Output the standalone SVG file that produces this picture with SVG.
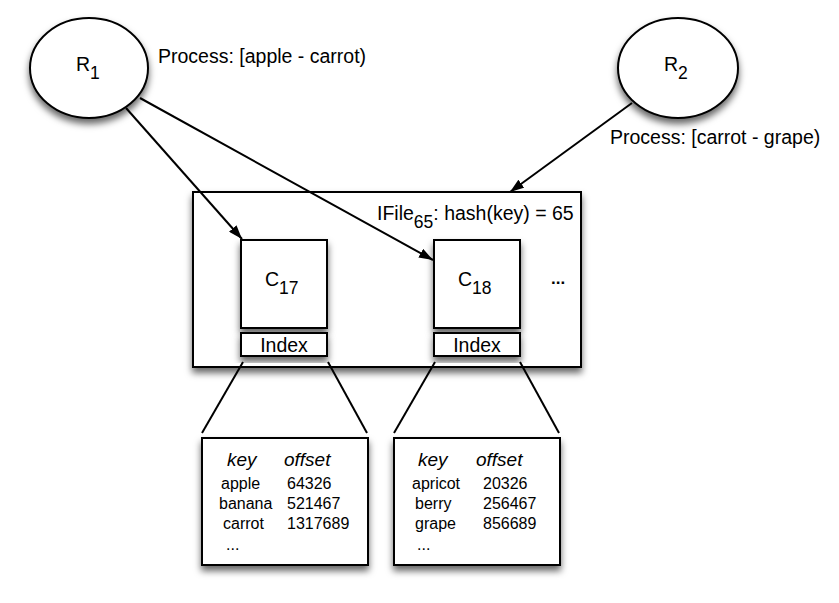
<svg xmlns="http://www.w3.org/2000/svg" width="839" height="603" viewBox="0 0 839 603">
<defs>
<filter id="sh" x="-20%" y="-20%" width="140%" height="150%">
<feDropShadow dx="0" dy="5" stdDeviation="3.5" flood-color="#000" flood-opacity="0.6"/>
</filter>
<marker id="ah" viewBox="0 0 14 10" refX="14" refY="5" markerWidth="14" markerHeight="10" markerUnits="userSpaceOnUse" orient="auto">
<path d="M0,0 L14,5 L0,10 Z" fill="#000"/>
</marker>
<style>
.n{fill:#fff;stroke:#000;stroke-width:2;filter:url(#sh)}
.c{stroke:#000;stroke-width:2;fill:none}
text{font-family:"Liberation Sans",Arial,sans-serif;fill:#000}
.lb{font-size:19.5px}
.sub{font-size:17.5px}
.hd{font-size:19px;font-style:italic}
.row{font-size:16px}
</style>
</defs>
<rect width="839" height="603" fill="#fff"/>
<g id="ifile">
<rect class="n" x="193" y="192" width="388" height="175"/>
<text class="lb" x="377" y="220">IFile<tspan class="sub" dy="8">65</tspan><tspan dy="-8">: hash(key) = 65</tspan></text>
<text class="lb" x="551" y="284" style="font-weight:bold;font-size:17px">...</text>
</g>
<g id="r1">
<ellipse class="n" cx="89" cy="68" rx="59" ry="50"/>
<text class="lb" x="76" y="71">R<tspan class="sub" dy="8">1</tspan></text>
<text class="lb" x="158" y="63">Process: [apple - carrot)</text>
</g>
<g id="r2">
<ellipse class="n" cx="678" cy="68" rx="60" ry="50"/>
<text class="lb" x="664" y="71">R<tspan class="sub" dy="8">2</tspan></text>
<text class="lb" x="610" y="144">Process: [carrot - grape)</text>
</g>
<g id="c17">
<rect class="n" x="241" y="240" width="86" height="88"/>
<text class="lb" x="265" y="286">C<tspan class="sub" dy="8">17</tspan></text>
</g>
<g id="index17">
<rect class="n" x="241" y="333" width="86" height="23"/>
<text class="lb" x="284" y="352" text-anchor="middle">Index</text>
</g>
<g id="c18">
<rect class="n" x="434" y="240" width="86" height="88"/>
<text class="lb" x="458" y="286">C<tspan class="sub" dy="8">18</tspan></text>
</g>
<g id="index18">
<rect class="n" x="434" y="333" width="86" height="23"/>
<text class="lb" x="477" y="352" text-anchor="middle">Index</text>
</g>
<g id="table17">
<rect class="n" x="202" y="438" width="166" height="127"/>
<text class="hd" x="227" y="466">key</text>
<text class="hd" x="284" y="466">offset</text>
<text class="row" x="221" y="489">apple</text>
<text class="row" x="287" y="489">64326</text>
<text class="row" x="219" y="509">banana</text>
<text class="row" x="287" y="509">521467</text>
<text class="row" x="223" y="529">carrot</text>
<text class="row" x="287" y="529">1317689</text>
<text class="row" x="226" y="550">...</text>
</g>
<g id="table18">
<rect class="n" x="394" y="438" width="166" height="127"/>
<text class="hd" x="418" y="466">key</text>
<text class="hd" x="476" y="466">offset</text>
<text class="row" x="412" y="489">apricot</text>
<text class="row" x="483" y="489">20326</text>
<text class="row" x="415" y="509">berry</text>
<text class="row" x="483" y="509">256467</text>
<text class="row" x="415" y="529">grape</text>
<text class="row" x="483" y="529">856689</text>
<text class="row" x="417" y="550">...</text>
</g>
<g id="connectors">
<line class="c" x1="126" y1="108" x2="242" y2="239" marker-end="url(#ah)"/>
<line class="c" x1="140" y1="98" x2="433" y2="260" marker-end="url(#ah)"/>
<line class="c" x1="632" y1="103" x2="510" y2="192" marker-end="url(#ah)"/>
<line class="c" x1="243" y1="362" x2="202" y2="433"/>
<line class="c" x1="328" y1="362" x2="367" y2="433"/>
<line class="c" x1="435" y1="362" x2="394" y2="433"/>
<line class="c" x1="520" y1="362" x2="559" y2="433"/>
</g>
</svg>
